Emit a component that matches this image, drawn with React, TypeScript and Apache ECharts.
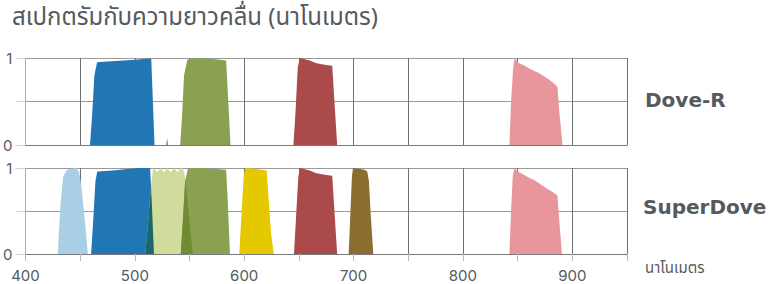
import React, { useEffect, useRef } from "react";
import * as echarts from "echarts";

// ---- Data (wavelength nm, relative response) ----
const titleText = "สเปกตรัมกับความยาวคลื่น (นาโนเมตร)";
const axisUnit = "นาโนเมตร";
const panelNames = ["Dove-R", "SuperDove"];
const xTickLabels = [400, 500, 600, 700, 800, 900];
const yTickLabels = ["0", "1"];

// Dove-R
const drBlueX = [459, 461, 463, 465.5, 475, 490, 500, 510, 515, 516.5, 518];
const drBlueY = [0, 0.35, 0.8, 0.95, 0.96, 0.97, 0.98, 0.99, 0.99, 0.5, 0];
const drGreenX = [528.5, 529.5, 530.5, 541.5, 543, 545, 548, 555, 570, 583.5, 585, 587.5];
const drGreenY = [0, 0.08, 0, 0, 0.3, 0.8, 0.98, 1.0, 0.99, 0.97, 0.6, 0];
const drRedX = [645, 647, 649, 651, 660, 666, 675, 680.5, 682, 685];
const drRedY = [0, 0.4, 0.9, 1.0, 0.97, 0.94, 0.92, 0.91, 0.6, 0];
const drNirX = [842.5, 844, 846, 847.4, 849, 851.4, 855, 858, 862, 865, 869, 873, 878, 883, 886.4, 888, 891];
const drNirY = [0, 0.5, 0.9, 1.0, 0.97, 0.94, 0.92, 0.9, 0.87, 0.85, 0.83, 0.8, 0.76, 0.71, 0.67, 0.4, 0];

// SuperDove
const sdCoastalX = [429.5, 432, 434.5, 438, 442, 446.5, 449, 451, 453, 455, 457];
const sdCoastalY = [0, 0.57, 0.9, 0.98, 0.99, 1.0, 0.95, 0.8, 0.55, 0.3, 0];
const sdBlueX = [460, 462, 464, 465.6, 480, 495, 505, 514, 515.5, 517.5];
const sdBlueY = [0, 0.4, 0.85, 0.96, 0.97, 0.99, 1.0, 1.0, 0.6, 0];
const sdGreenIX = [509.5, 512, 514.5, 516.5, 517.5, 520.5, 523.5, 526.5, 529.5, 532.7, 536, 538.8, 542, 544, 546, 549, 553];
const sdGreenIY = [0, 0.35, 0.75, 0.98, 1.0, 0.95, 1.0, 0.95, 1.0, 0.95, 1.0, 0.95, 1.0, 0.99, 0.9, 0.5, 0];
const sdGreenX = [542, 544, 546, 548.5, 560, 572, 583.5, 585, 587];
const sdGreenY = [0, 0.4, 0.85, 0.99, 1.0, 0.99, 0.98, 0.6, 0];
const sdYellowX = [595.5, 597.5, 599.5, 601, 610, 615, 620.5, 622, 624.5, 627];
const sdYellowY = [0, 0.45, 0.9, 1.0, 0.99, 0.98, 0.97, 0.7, 0.25, 0];
const sdRedX = [645.5, 647.5, 649.5, 651, 660, 666, 675, 680.5, 682, 685];
const sdRedY = [0, 0.45, 0.9, 1.0, 0.97, 0.94, 0.92, 0.91, 0.6, 0];
const sdRedEdgeX = [695.5, 697, 698.5, 699.5, 705, 710, 712.5, 714, 715.5, 718];
const sdRedEdgeY = [0, 0.45, 0.9, 1.0, 0.99, 0.98, 0.96, 0.85, 0.5, 0];
const sdNirX = [842.5, 844, 845.5, 847, 849, 851.5, 856, 860, 865, 870, 877, 882, 886.4, 888, 890.5];
const sdNirY = [0, 0.5, 0.9, 1.0, 0.97, 0.95, 0.92, 0.89, 0.86, 0.82, 0.76, 0.72, 0.68, 0.4, 0];

const C = {
  coastal: "#a8cfe3",
  blue: "#2177b3",
  greenI: "#d0dc9c",
  green: "#8ba152",
  yellow: "#e5c800",
  red: "#ab4a4a",
  redEdge: "#8b6d2f",
  nir: "#e8969b",
};

type Band = { x: number[]; y: number[]; color: string };

const pairs = (b: Band) => b.x.map((v, i) => [v, b.y[i]]);

function interp(b: Band, x: number): number {
  const xs = b.x;
  if (x < xs[0] || x > xs[xs.length - 1]) return 0;
  for (let i = 0; i < xs.length - 1; i++) {
    if (x >= xs[i] && x <= xs[i + 1]) {
      const t = xs[i + 1] === xs[i] ? 0 : (x - xs[i]) / (xs[i + 1] - xs[i]);
      return b.y[i] + t * (b.y[i + 1] - b.y[i]);
    }
  }
  return 0;
}

function multiply(a: string, b: string): string {
  const p = (h: string) => [1, 3, 5].map((i) => parseInt(h.slice(i, i + 2), 16));
  const A = p(a), B = p(b);
  return "#" + A.map((v, i) => Math.round((v * B[i]) / 255).toString(16).padStart(2, "0")).join("");
}

function overlap(a: Band, b: Band): Band {
  const lo = Math.max(a.x[0], b.x[0]);
  const hi = Math.min(a.x[a.x.length - 1], b.x[b.x.length - 1]);
  const xs = Array.from(new Set([lo, hi, ...a.x, ...b.x].filter((v) => v >= lo && v <= hi))).sort((m, n) => m - n);
  const out: number[] = [];
  for (let i = 0; i < xs.length; i++) {
    out.push(xs[i]);
    if (i < xs.length - 1) {
      const d0 = interp(a, xs[i]) - interp(b, xs[i]);
      const d1 = interp(a, xs[i + 1]) - interp(b, xs[i + 1]);
      if (d0 * d1 < 0) out.push(xs[i] + (d0 / (d0 - d1)) * (xs[i + 1] - xs[i]));
    }
  }
  const ys = out.map((x) => Math.min(interp(a, x), interp(b, x)));
  return { x: out, y: ys, color: multiply(a.color, b.color) };
}

const doveR: Band[] = [
  { x: drBlueX, y: drBlueY, color: C.blue },
  { x: drGreenX, y: drGreenY, color: C.green },
  { x: drRedX, y: drRedY, color: C.red },
  { x: drNirX, y: drNirY, color: C.nir },
];

const sdBlue: Band = { x: sdBlueX, y: sdBlueY, color: C.blue };
const sdGreenI: Band = { x: sdGreenIX, y: sdGreenIY, color: C.greenI };
const sdGreen: Band = { x: sdGreenX, y: sdGreenY, color: C.green };
const superDove: Band[] = [
  { x: sdCoastalX, y: sdCoastalY, color: C.coastal },
  sdBlue,
  sdGreenI,
  sdGreen,
  { x: sdYellowX, y: sdYellowY, color: C.yellow },
  { x: sdRedX, y: sdRedY, color: C.red },
  { x: sdRedEdgeX, y: sdRedEdgeY, color: C.redEdge },
  { x: sdNirX, y: sdNirY, color: C.nir },
  overlap(sdBlue, sdGreenI),
  overlap(sdGreenI, sdGreen),
];

const TEXT = "#555a5e";
const LABEL_FONT = "Inter, 'Open Sans', sans-serif";
const NAME_FONT = "'DejaVu Sans', Inter, sans-serif";
const THAI_FONT = "'Noto Sans Thai', 'Noto Sans', sans-serif";

export default function App() {
  const ref = useRef<HTMLDivElement>(null);
  useEffect(() => {
    if (!ref.current) return;
    const chart = echarts.init(ref.current, undefined, { renderer: "svg" });

    const mkSeries = (bands: Band[], axisIndex: number) =>
      bands.map((b) => ({
        type: "line",
        xAxisIndex: axisIndex,
        yAxisIndex: axisIndex,
        data: pairs(b),
        showSymbol: false,
        symbol: "none",
        lineStyle: { width: 0, color: b.color },
        itemStyle: { color: b.color },
        areaStyle: { color: b.color, opacity: 1 },
        silent: true,
      }));

    const xBase = (grid: number) => ({
      type: "value",
      gridIndex: grid,
      min: 400,
      max: 950,
      interval: 50,
      axisLine: { show: true, onZero: false, lineStyle: { color: "#7a7a7a", width: 1 } },
      axisTick: { show: false },
      axisLabel: { show: false },
      splitLine: { show: true, lineStyle: { color: "#707070", width: 1 } },
    });

    const yBase = (grid: number) => ({
      type: "value",
      gridIndex: grid,
      min: 0,
      max: 1,
      interval: 0.5,
      axisLine: { show: true, lineStyle: { color: "#aaaaaa" } },
      axisTick: { show: true, length: 10, lineStyle: { color: "#d0d0d0" } },
      axisLabel: {
        margin: 13,
        color: TEXT,
        fontSize: 15,
        fontFamily: LABEL_FONT,
        formatter: (v: number) => (v === 0 ? yTickLabels[0] : v === 1 ? yTickLabels[1] : ""),
      },
      splitLine: { show: true, lineStyle: { color: "#9a9a9a", width: 1 } },
    });

    chart.setOption({
      animation: false,
      backgroundColor: "#ffffff",
      grid: [
        { left: 25, top: 58, width: 602, height: 87 },
        { left: 25, top: 168, width: 602, height: 86 },
      ],
      xAxis: [
        xBase(0),
        xBase(1),
        {
          type: "value",
          gridIndex: 1,
          position: "bottom",
          offset: 4,
          min: 400,
          max: 950,
          interval: 50,
          axisLine: { show: false },
          axisTick: { show: true, length: 7, lineStyle: { color: "#b8b8b8" } },
          splitLine: { show: false },
          axisLabel: {
            margin: 10,
            color: TEXT,
            fontSize: 15,
            fontFamily: LABEL_FONT,
            formatter: (v: number) => (xTickLabels.includes(v) ? String(v) : ""),
          },
        },
      ],
      yAxis: [yBase(0), yBase(1)],
      graphic: [
        {
          type: "text",
          left: 12,
          top: 6,
          style: { text: titleText, fill: TEXT, fontSize: 24, fontFamily: THAI_FONT },
        },
        {
          type: "text",
          left: 645,
          top: 90,
          style: { text: panelNames[0], fill: TEXT, fontSize: 20, fontWeight: "bold", fontFamily: NAME_FONT },
        },
        {
          type: "text",
          left: 643,
          top: 197,
          style: { text: panelNames[1], fill: TEXT, fontSize: 20, fontWeight: "bold", fontFamily: NAME_FONT },
        },
        {
          type: "text",
          left: 645,
          top: 261,
          style: { text: axisUnit, fill: TEXT, fontSize: 15, fontFamily: THAI_FONT },
        },
      ],
      series: [...mkSeries(doveR, 0), ...mkSeries(superDove, 1)],
    });
    return () => chart.dispose();
  }, []);
  return <div ref={ref} style={{ position: "absolute", left: 0, top: 0, width: 782, height: 284 }} />;
}
